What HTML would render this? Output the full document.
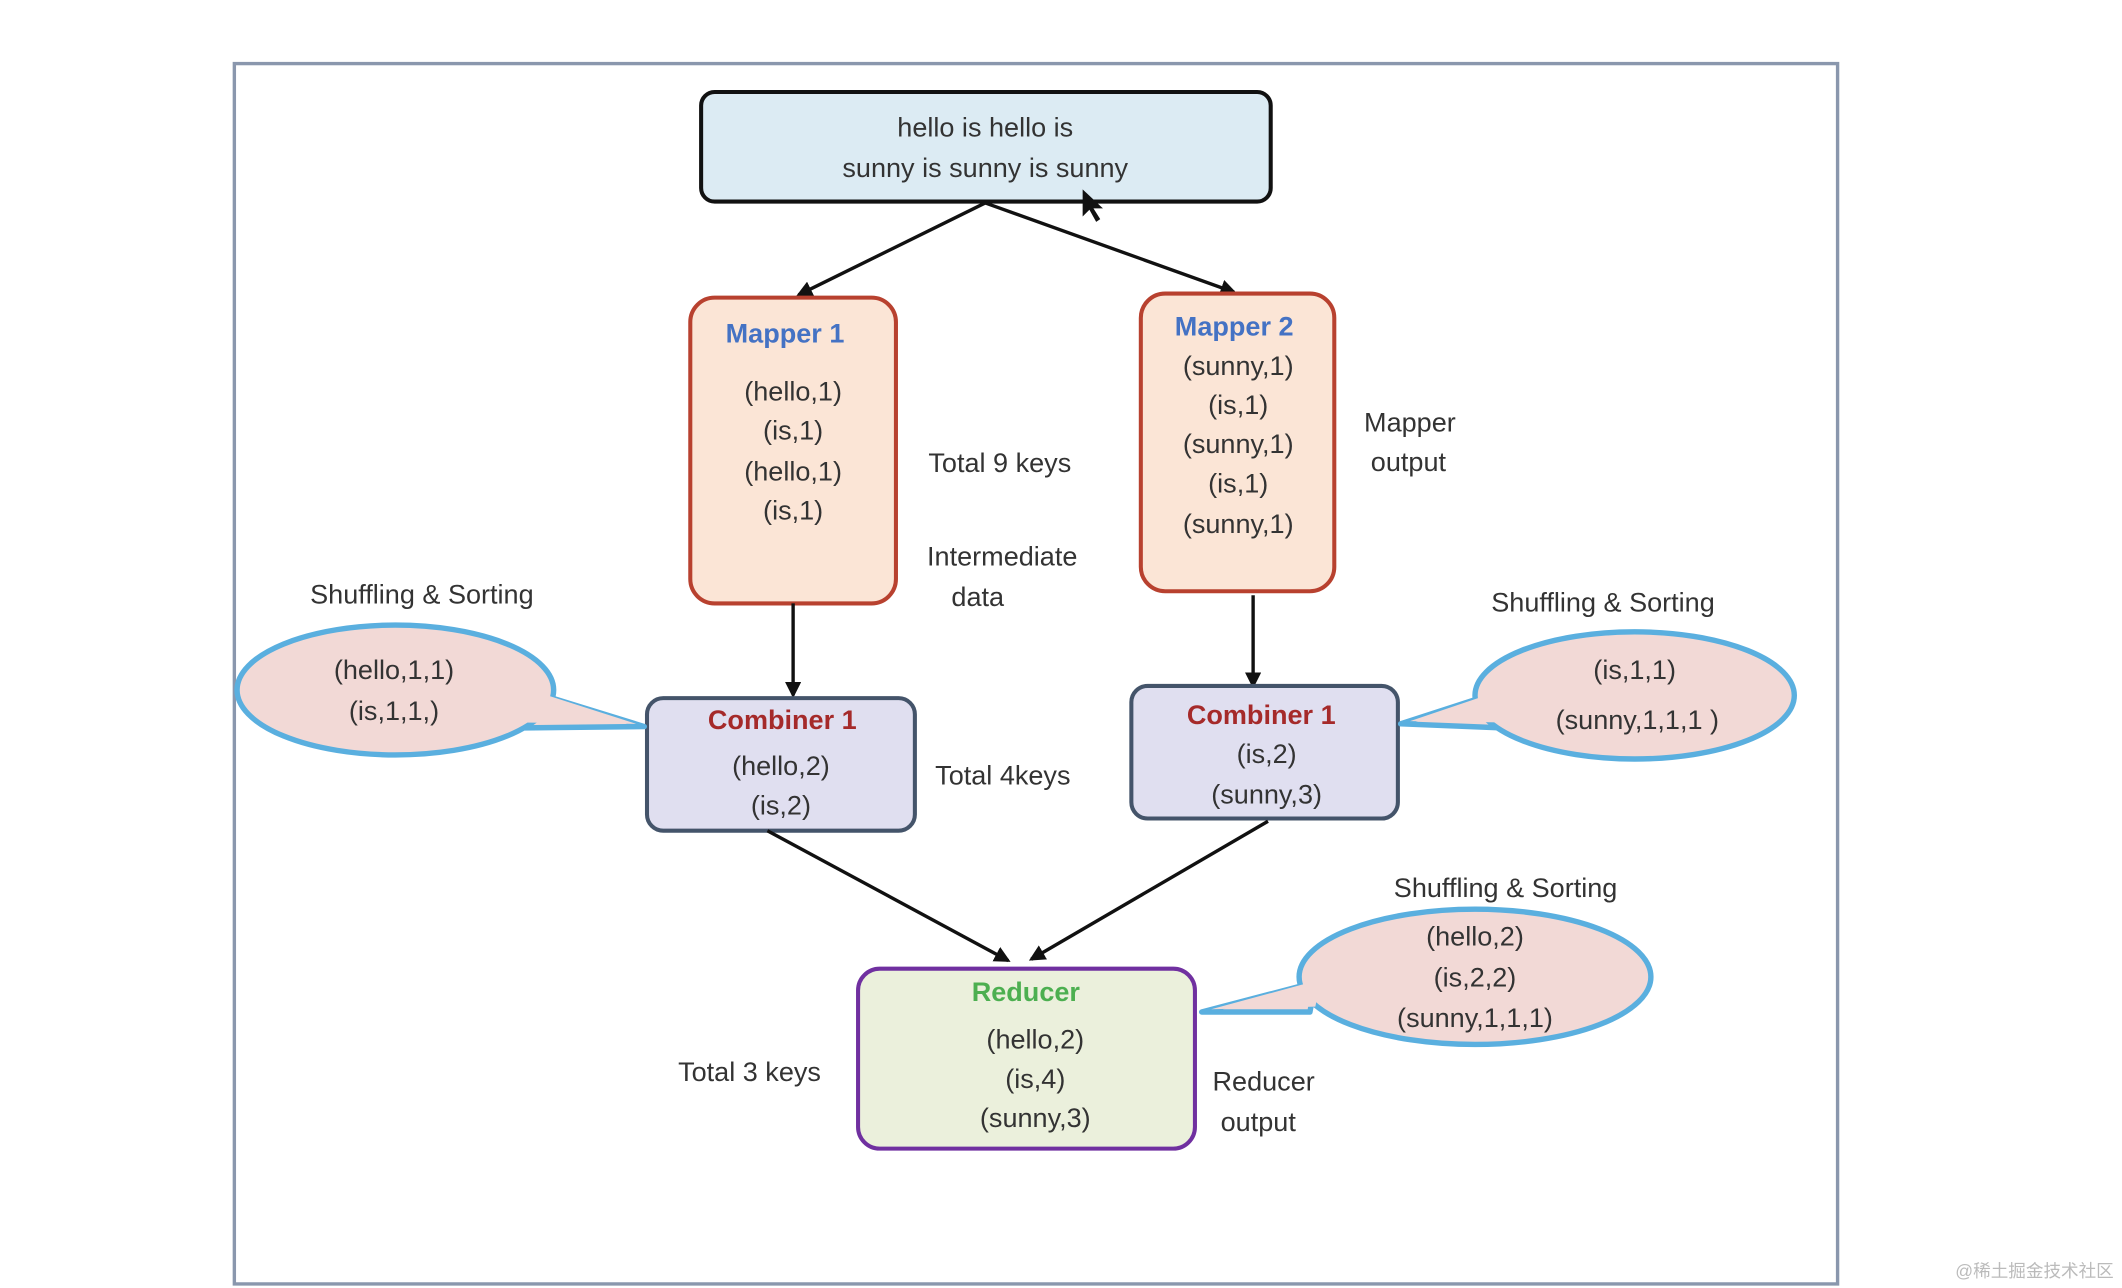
<!DOCTYPE html>
<html><head><meta charset="utf-8">
<style>
html,body{margin:0;padding:0;background:#fff;}
svg{display:block;}
text{font-family:"Liberation Sans","Noto Sans CJK SC",sans-serif;fill:#333;font-size:20px;}
.c{text-anchor:middle;}
</style></head>
<body>
<svg width="2122" height="1288" viewBox="0 0 1568 952" xmlns="http://www.w3.org/2000/svg">
<defs>
<marker id="ah" markerWidth="12" markerHeight="12" refX="10" refY="6" orient="auto" markerUnits="userSpaceOnUse">
<path d="M0,0 L12,6 L0,12 z" fill="#111"/>
</marker>
</defs>
<rect x="0" y="0" width="1568" height="952" fill="#fff"/>
<rect x="173" y="47" width="1185" height="902" fill="#fff" stroke="#8a97ad" stroke-width="2.5"/>

<rect x="518" y="68" width="421" height="81" rx="10" fill="#dcebf3" stroke="#111" stroke-width="3"/>
<text class="c" x="728" y="101">hello is hello is</text>
<text class="c" x="728" y="131">sunny is sunny is sunny</text>
<path d="M800,140 l0,20 l5,-5 l5,9 l3,-2 l-5,-8 l7,0 z" fill="#111"/>

<line x1="728" y1="150" x2="590" y2="218" stroke="#111" stroke-width="2.5" marker-end="url(#ah)"/>
<line x1="728" y1="150" x2="912" y2="216" stroke="#111" stroke-width="2.5" marker-end="url(#ah)"/>

<rect x="510" y="220" width="152" height="226" rx="18" fill="#fbe5d6" stroke="#b8412f" stroke-width="3"/>
<text class="c" x="580" y="253" style="fill:#4472c4;font-weight:bold">Mapper 1</text>
<text class="c" x="586" y="296">(hello,1)</text>
<text class="c" x="586" y="325">(is,1)</text>
<text class="c" x="586" y="355">(hello,1)</text>
<text class="c" x="586" y="384">(is,1)</text>

<rect x="843" y="217" width="143" height="220" rx="18" fill="#fbe5d6" stroke="#b8412f" stroke-width="3"/>
<text class="c" x="912" y="248" style="fill:#4472c4;font-weight:bold">Mapper 2</text>
<text class="c" x="915" y="277">(sunny,1)</text>
<text class="c" x="915" y="306">(is,1)</text>
<text class="c" x="915" y="335">(sunny,1)</text>
<text class="c" x="915" y="364">(is,1)</text>
<text class="c" x="915" y="394">(sunny,1)</text>

<text x="686" y="349">Total 9 keys</text>
<text x="685" y="418">Intermediate</text>
<text x="703" y="448">data</text>
<text x="1008" y="319">Mapper</text>
<text x="1013" y="348">output</text>

<line x1="586" y1="446" x2="586" y2="514" stroke="#111" stroke-width="2.5" marker-end="url(#ah)"/>
<line x1="926" y1="440" x2="926" y2="507" stroke="#111" stroke-width="2.5" marker-end="url(#ah)"/>

<rect x="478" y="516" width="198" height="98" rx="12" fill="#e0dff0" stroke="#44546a" stroke-width="3"/>
<text class="c" x="578" y="539" style="fill:#a52a2a;font-weight:bold">Combiner 1</text>
<text class="c" x="577" y="573">(hello,2)</text>
<text class="c" x="577" y="602">(is,2)</text>

<rect x="836" y="507" width="197" height="98" rx="12" fill="#e0dff0" stroke="#44546a" stroke-width="3"/>
<text class="c" x="932" y="535" style="fill:#a52a2a;font-weight:bold">Combiner 1</text>
<text class="c" x="936" y="564">(is,2)</text>
<text class="c" x="936" y="594">(sunny,3)</text>

<text x="691" y="580">Total 4keys</text>

<!-- left bubble -->
<path d="M395,512 L476,537 L388,538 Z" fill="#f2d9d6" stroke="#5aafdf" stroke-width="4" stroke-linejoin="round"/>
<ellipse cx="292" cy="510" rx="117" ry="48" fill="#f2d9d6" stroke="#5aafdf" stroke-width="4"/>
<path d="M392,510 L470,535 L385,534 Z" fill="#f2d9d6"/>
<text class="c" x="291" y="502">(hello,1,1)</text>
<text class="c" x="291" y="532">(is,1,1,)</text>
<text x="229" y="446">Shuffling &amp; Sorting</text>

<!-- right bubble -->
<path d="M1106,512 L1035,535 L1110,538 Z" fill="#f2d9d6" stroke="#5aafdf" stroke-width="4" stroke-linejoin="round"/>
<ellipse cx="1208" cy="514" rx="118" ry="47" fill="#f2d9d6" stroke="#5aafdf" stroke-width="4"/>
<path d="M1110,510 L1042,533 L1114,534 Z" fill="#f2d9d6"/>
<text class="c" x="1208" y="502">(is,1,1)</text>
<text class="c" x="1210" y="539">(sunny,1,1,1 )</text>
<text x="1102" y="452">Shuffling &amp; Sorting</text>

<line x1="567" y1="614" x2="745" y2="710" stroke="#111" stroke-width="2.5" marker-end="url(#ah)"/>
<line x1="937" y1="607" x2="762" y2="709" stroke="#111" stroke-width="2.5" marker-end="url(#ah)"/>

<rect x="634" y="716" width="249" height="133" rx="16" fill="#ebf0dc" stroke="#7030a0" stroke-width="3"/>
<text class="c" x="758" y="740" style="fill:#4caf50;font-weight:bold">Reducer</text>
<text class="c" x="765" y="775">(hello,2)</text>
<text class="c" x="765" y="804">(is,4)</text>
<text class="c" x="765" y="833">(sunny,3)</text>

<text x="501" y="799">Total 3 keys</text>
<text x="896" y="806">Reducer</text>
<text x="902" y="836">output</text>

<!-- bottom bubble -->
<path d="M972,726 L888,748 L968,748 Z" fill="#f2d9d6" stroke="#5aafdf" stroke-width="4" stroke-linejoin="round"/>
<ellipse cx="1090" cy="722" rx="130" ry="50" fill="#f2d9d6" stroke="#5aafdf" stroke-width="4"/>
<path d="M976,724 L895,746 L972,744 Z" fill="#f2d9d6"/>
<text class="c" x="1090" y="699">(hello,2)</text>
<text class="c" x="1090" y="729">(is,2,2)</text>
<text class="c" x="1090" y="759">(sunny,1,1,1)</text>
<text x="1030" y="663">Shuffling &amp; Sorting</text>

<text x="1445" y="944" style="font-size:13px;fill:#bbb">@稀土掘金技术社区</text>
</svg>
</body></html>
